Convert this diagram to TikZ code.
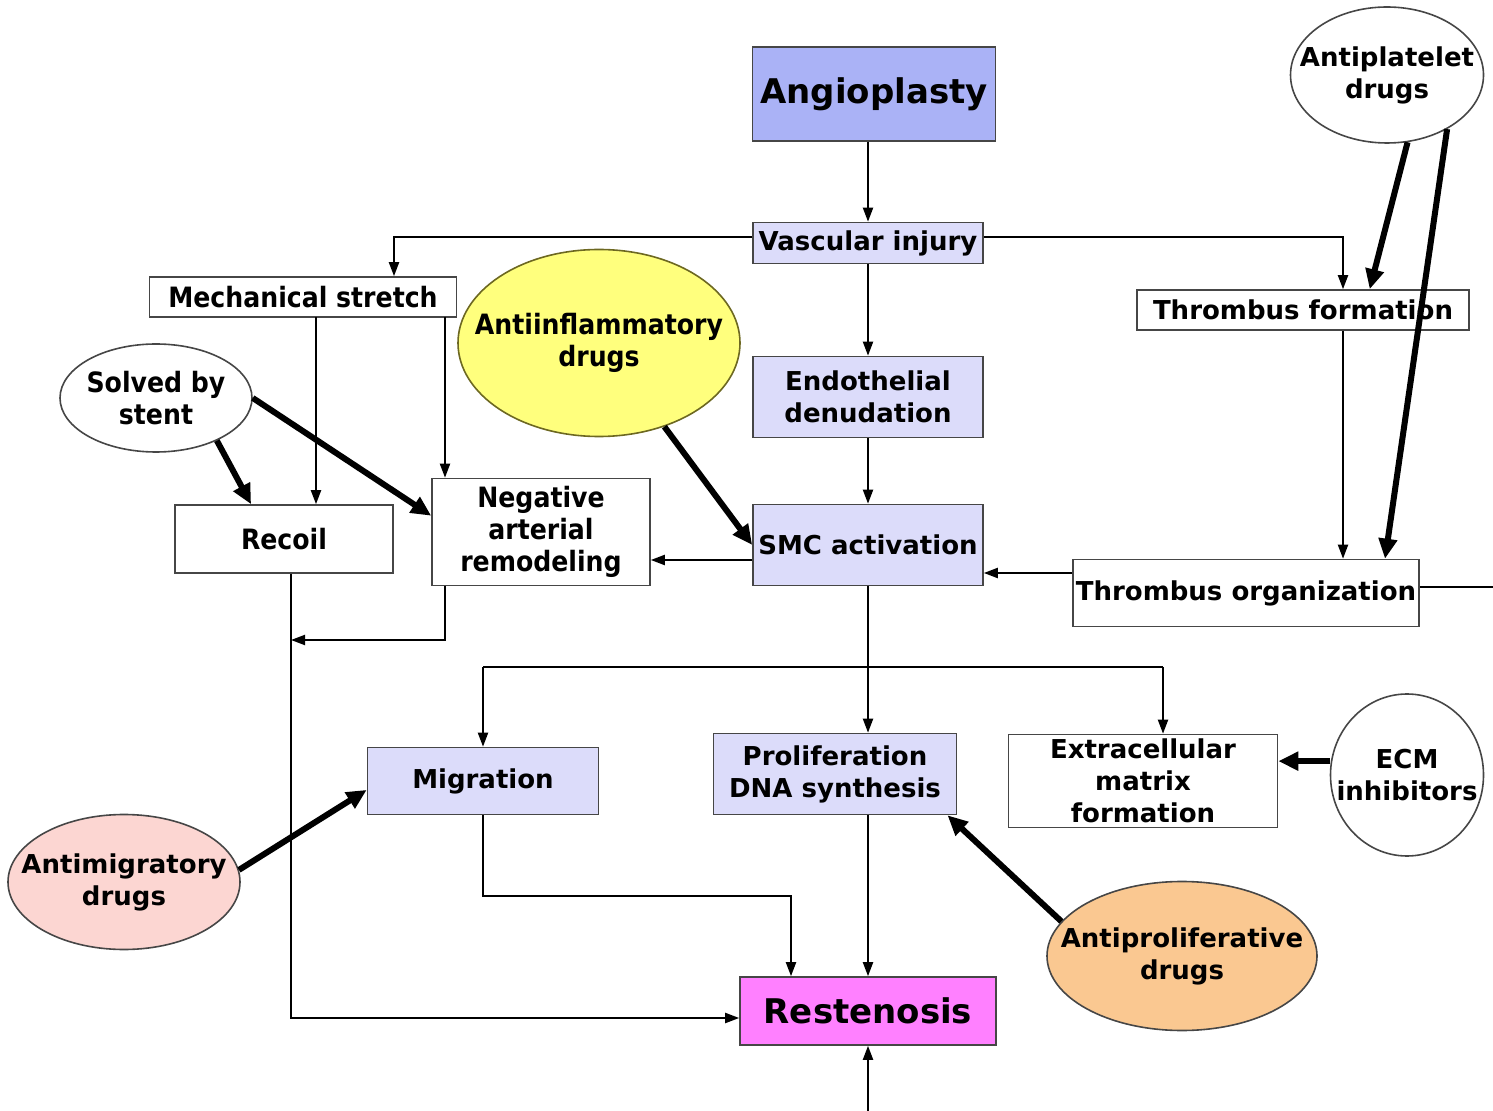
\documentclass[tikz,border=0pt]{standalone}
\usepackage{fontspec}
\setmainfont{DejaVu Sans}
\newfontfamily\narrowfont{DejaVu Sans Condensed}
\usetikzlibrary{shapes.geometric, arrows.meta, calc}

\definecolor{angioblue}{RGB}{170,178,246}
\definecolor{lavender}{RGB}{220,220,250}
\definecolor{drugyellow}{RGB}{255,255,125}
\definecolor{drugpink}{RGB}{252,214,210}
\definecolor{drugorange}{RGB}{250,200,145}
\definecolor{restpink}{RGB}{255,128,255}
\definecolor{edgegray}{RGB}{70,70,70}

\begin{document}
\begin{tikzpicture}[x=0.5pt, y=-0.5pt, ->, >={Triangle[length=7pt,width=5pt]}, line width=1pt,
    blk/.style={draw=edgegray, line width=0.8pt, rectangle, inner sep=0pt, align=center,
        font=\fontsize{13}{16}\selectfont\bfseries},
    pale/.style={blk, fill=lavender},
    big/.style={font=\fontsize{17}{20}\selectfont\bfseries},
    narrow/.style={font=\narrowfont\fontsize{14}{16}\selectfont\bfseries},
    pill/.style={draw=edgegray, line width=0.8pt, ellipse, inner sep=0pt},
    pilltext/.style={inner sep=0pt, align=center, font=\fontsize{13}{16}\selectfont\bfseries},
    hit/.style={line width=3pt, -{Triangle[length=10pt,width=9pt]}}]
    \useasboundingbox (0,0) rectangle (1493,1111);

    \node[pale, big, fill=angioblue, minimum width=121.5pt, minimum height=47pt] (angio) at (874,94) {Angioplasty};
    \node[pale, minimum width=115pt, minimum height=20.5pt] (vasc) at (868,243) {Vascular injury};
    \node[blk, narrow, minimum width=153.5pt, minimum height=20pt] (mech) at (303,297) {Mechanical stretch};
    \node[pale, minimum width=115pt, minimum height=40.5pt] (endo) at (868,397) {Endothelial\\denudation};
    \node[blk, narrow, minimum width=109pt, minimum height=34pt] (recoil) at (284,539) {Recoil};
    \node[blk, narrow, minimum width=109pt, minimum height=53.5pt] (neg) at (541,532) {Negative\\arterial\\remodeling};
    \node[pale, minimum width=115pt, minimum height=40.5pt] (smc) at (868,545) {SMC activation};
    \node[blk, minimum width=166pt, minimum height=20pt] (tform) at (1303,310) {Thrombus formation};
    \node[blk, minimum width=173pt, minimum height=33.5pt] (torg) at (1246,593) {Thrombus organization};
    \node[pale, minimum width=115.5pt, minimum height=33.5pt] (migr) at (483,781) {Migration};
    \node[pale, minimum width=121.5pt, minimum height=40.5pt] (prolif) at (835,774) {Proliferation\\DNA synthesis};
    \node[blk, minimum width=134.5pt, minimum height=46.5pt] (ecmf) at (1143,781) {Extracellular\\matrix\\formation};
    \node[pale, big, fill=restpink, minimum width=128pt, minimum height=34pt] (rest) at (868,1011) {Restenosis};

    % drug ellipses
    \node[pill, fill=drugyellow, draw=olive!70!black, minimum width=141pt, minimum height=93.5pt] (infl) at (599,343) {};
    \node[pilltext, narrow] (inflT) at (infl) {Antiinflammatory\\drugs};
    \node[pill, minimum width=96pt, minimum height=54pt] (stent) at (156,398) {};
    \node[pilltext, narrow] (stentT) at (stent) {Solved by\\stent};
    \node[pill, minimum width=96.5pt, minimum height=68pt] (plat) at (1387,75) {};
    \node[pilltext] (platT) at (plat) {Antiplatelet\\drugs};
    \node[pill, minimum width=76.5pt, minimum height=81pt] (ecmi) at (1407,775) {};
    \node[pilltext] (ecmiT) at (ecmi) {ECM\\inhibitors};
    \node[pill, fill=drugpink, minimum width=116pt, minimum height=67.5pt] (amig) at (124,882) {};
    \node[pilltext] (amigT) at (amig) {Antimigratory\\drugs};
    \node[pill, fill=drugorange, minimum width=135pt, minimum height=74.5pt] (aprol) at (1182,956) {};
    \node[pilltext] (aprolT) at (aprol) {Antiproliferative\\drugs};

    % bends
    \coordinate (vL) at (394,237);
    \coordinate (vR) at (1343,237);
    \coordinate (mR) at (316,317);
    \coordinate (mN) at (445,317);
    \coordinate (nK) at (445,640);
    \coordinate (rJ) at (291,640);
    \coordinate (rK) at (291,1018);
    \coordinate (yN) at (0,560);
    \coordinate (yT) at (0,573);
    \coordinate (sK) at (868,667);
    \coordinate (mK) at (483,667);
    \coordinate (eK) at (1163,667);
    \coordinate (gK) at (483,896);
    \coordinate (gR) at (791,896);
    \coordinate (offR) at (1493,587);
    \coordinate (offB) at (868,1111);
    \coordinate (eIn) at ($(ecmf.north east)!0.29!(ecmf.south east)$);

    \draw (angio.south -| vasc.north) -- (vasc.north);
    \draw (vasc.west |- vL) -- (vL) -- (vL |- mech.north);
    \draw (vasc.east |- vR) -- (vR) -- (vR |- tform.north);
    \draw (vasc) -- (endo);
    \draw (endo) -- (smc);
    \draw (mR) -- (mR |- recoil.north);
    \draw (mN) -- (mN |- neg.north);
    \draw (nK |- neg.south) -- (nK) -- (rJ);
    \draw (rJ |- recoil.south) -- (rK) -- (rK -| rest.west);
    \draw (smc.west |- yN) -- (neg.east |- yN);
    \draw (vR |- tform.south) -- (vR |- torg.north);
    \draw (torg.west |- yT) -- (smc.east |- yT);
    \draw[-] (torg.east |- offR) -- (offR);
    \draw (smc.south) -- (smc.south |- prolif.north);
    \draw[-] (mK) -- (eK);
    \draw (mK) -- (mK |- migr.north);
    \draw (eK) -- (eK |- ecmf.north);
    \draw (gK |- migr.south) -- (gK) -- (gR) -- (gR |- rest.north);
    \draw (sK |- prolif.south) -- (sK |- rest.north);
    \draw (offB) -- (rest.south);

    % drug actions
    \draw[hit] (stent.-35) -- ($(recoil.north west)!0.35!(recoil.north east)$);
    \draw[hit] (stent.east) -- ($(neg.north west)!0.35!(neg.south west)$);
    \draw[hit] (infl.-52) -- (smc.west);
    \draw[hit] (plat.-73) -- ($(tform.north west)!0.7!(tform.north east)$);
    \draw[hit] (plat.-42) -- ($(torg.north west)!0.9!(torg.north east)$);
    \draw[hit] (ecmi.west |- eIn) -- (eIn);
    \draw[hit] (amig.6) -- ($(migr.north west)!0.63!(migr.south west)$);
    \draw[hit] (aprol.164) -- ($(prolif.south east)!0.04!(prolif.south west)$);
\end{tikzpicture}
\end{document}
